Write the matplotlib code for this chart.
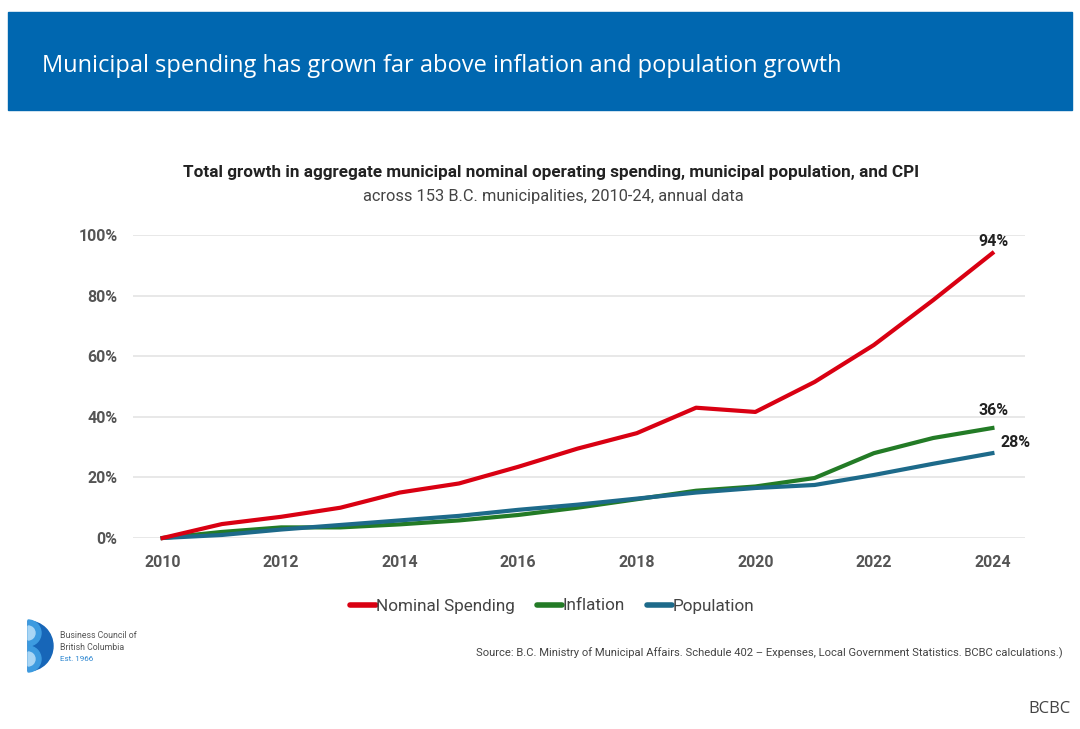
import matplotlib.pyplot as plt
from matplotlib.patches import Rectangle, Wedge

years = list(range(2010, 2025))
spending = [0, 4.6, 7, 10, 15, 18, 23.5, 29.5, 34.6, 43, 41.6, 51.5, 63.7, 78.5, 94]
inflation = [0, 2, 3.5, 3.5, 4.5, 5.8, 7.6, 10, 12.8, 15.6, 17, 19.8, 28, 33, 36.3]
population = [0, 1, 2.8, 4.3, 5.8, 7.3, 9.3, 11, 13, 15, 16.5, 17.5, 20.8, 24.5, 28]
yticks = [0, 20, 40, 60, 80, 100]
xticks = [2010, 2012, 2014, 2016, 2018, 2020, 2022, 2024]

fnt = ['Roboto', 'DejaVu Sans']

fig = plt.figure(figsize=(10.8, 7.29), dpi=100)
W, H = 1080, 729

# blue banner
fig.patches.append(Rectangle((8 / W, 1 - 110 / H), 1064 / W, 98 / H,
                             transform=fig.transFigure, color='#0067B0', zorder=0))
fig.text(42 / W, 1 - 66 / H, 'Municipal spending has grown far above inflation and population growth',
         color='white', fontsize=17, family='Open Sans', va='center')

fig.text(551 / W, 1 - 172 / H,
         'Total growth in aggregate municipal nominal operating spending, municipal population, and CPI',
         ha='center', va='center', fontsize=12.3, fontweight='bold', family=fnt, color='#222222')
fig.text(553 / W, 1 - 197 / H, 'across 153 B.C. municipalities, 2010-24, annual data',
         ha='center', va='center', fontsize=11.8, family=fnt, color='#444444')

ax = fig.add_axes([133 / W, 1 - 538 / H, (1025 - 133) / W, (538 - 235) / H])
ax.plot(years, spending, color='#D90012', lw=3.0, label='Nominal Spending', clip_on=False, zorder=3)
ax.plot(years, inflation, color='#237B26', lw=3.0, label='Inflation', clip_on=False, zorder=2)
ax.plot(years, population, color='#1D6A8A', lw=3.0, label='Population', clip_on=False, zorder=2.5)

ax.set_xlim(2009.5, 2024.55)
ax.set_ylim(0, 100)
ax.set_yticks(yticks)
ax.set_yticklabels([f'{v}%' for v in yticks])
ax.set_xticks(xticks)
ax.grid(axis='y', color='#E6E6E6', lw=1.3)
ax.set_axisbelow(True)
for s in ax.spines.values():
    s.set_visible(False)
ax.tick_params(length=0, labelsize=11.5, colors='#555555')
ax.tick_params(axis='y', pad=11)
ax.tick_params(axis='x', pad=12)
for lab in ax.get_xticklabels() + ax.get_yticklabels():
    lab.set_family(fnt)
    lab.set_fontweight('bold')

# end labels
ax.annotate('94%', (years[-1], spending[-1]), xytext=(1, 3), textcoords='offset points',
            ha='center', va='bottom', fontsize=11.5, fontweight='bold', family=fnt, color='#222222')
ax.annotate('36%', (years[-1], inflation[-1]), xytext=(1, 7), textcoords='offset points',
            ha='center', va='bottom', fontsize=11.5, fontweight='bold', family=fnt, color='#222222')
ax.annotate('28%', (years[-1], population[-1]), xytext=(6, 2), textcoords='offset points',
            ha='left', va='bottom', fontsize=11.5, fontweight='bold', family=fnt, color='#222222')

leg = fig.legend(loc='center', bbox_to_anchor=(552 / W, 1 - 606 / H), ncol=3, frameon=False,
                 handlelength=1.5, handletextpad=0.0, columnspacing=1.3,
                 prop={'family': fnt, 'size': 12.3})
for t in leg.get_texts():
    t.set_color('#444444')
for h in leg.legend_handles:
    h.set_linewidth(4)
    h.set_solid_capstyle('round')

# logo, in pixel coordinates
lax = fig.add_axes([20 / W, 1 - 680 / H, 140 / W, 65 / H])
lax.set_xlim(0, 140)
lax.set_ylim(65, 0)
lax.axis('off')
lax.add_patch(Wedge((8, 31), 25, -90, 90, color='#1766B8'))
lax.add_patch(Wedge((8, 18), 13, -90, 90, color='#3D9BE0'))
lax.add_patch(Wedge((8, 44), 13, -90, 90, color='#3D9BE0'))
lax.add_patch(Wedge((8, 18), 7, -90, 90, color='#A9D6F5'))
lax.add_patch(Wedge((8, 44), 7, -90, 90, color='#A9D6F5'))
lax.text(40, 20, 'Business Council of', fontsize=6.3, family=fnt, color='#555555', va='center')
lax.text(40, 32, 'British Columbia', fontsize=6.3, family=fnt, color='#555555', va='center')
lax.text(40, 44, 'Est. 1966', fontsize=5.8, family=fnt, color='#2C86D0', va='center')

fig.text(1063 / W, 1 - 653 / H,
         'Source: B.C. Ministry of Municipal Affairs. Schedule 402 \u2013 Expenses, Local Government Statistics. BCBC calculations.)',
         ha='right', va='center', fontsize=8.1, family=fnt, color='#444444')

fig.text(1071 / W, 1 - 709 / H, 'BCBC', ha='right', va='center', fontsize=12,
         family='Open Sans', color='#444444')

fig.savefig('out.png', dpi=100)
